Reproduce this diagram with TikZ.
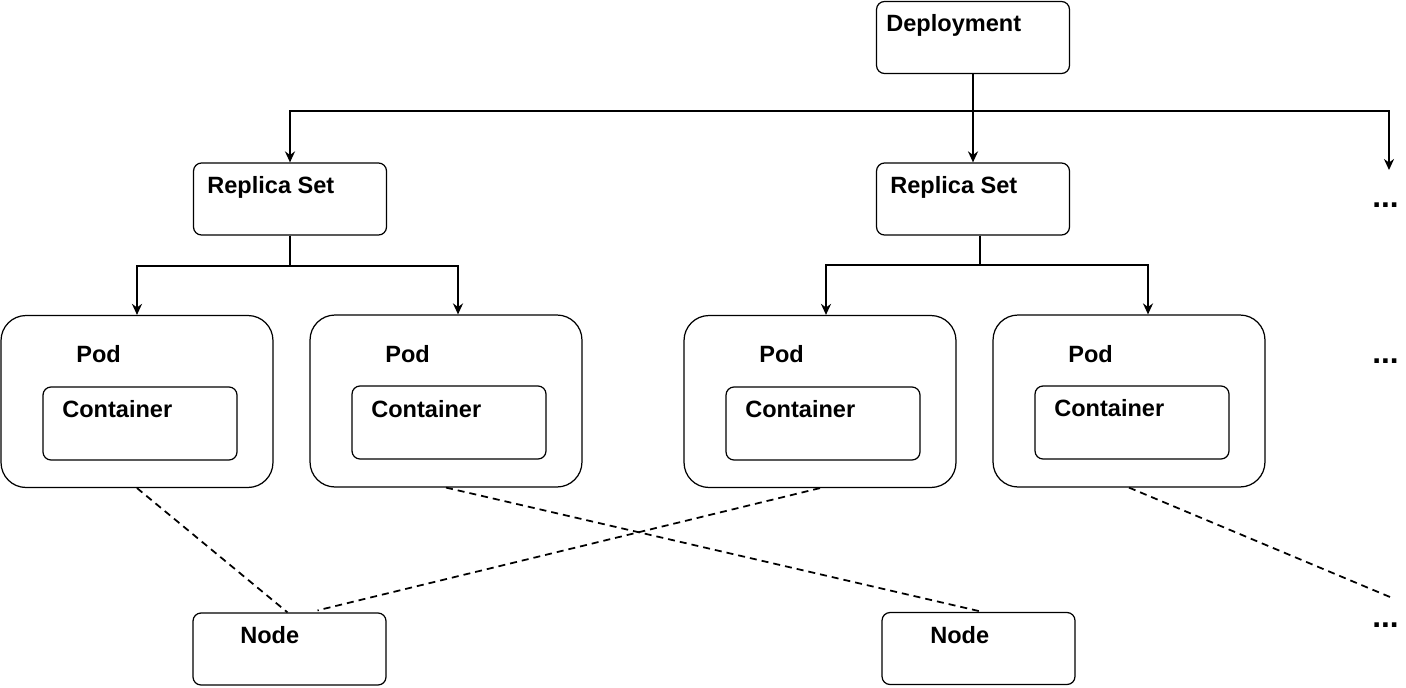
\documentclass[tikz,border=0pt]{standalone}
\usepackage{fontspec}
\setmainfont{Liberation Sans}
\usetikzlibrary{arrows.meta,calc,positioning}

\tikzset{
  box/.style={draw, rounded corners=0.16cm, line width=0.7pt, minimum width=3.86cm, minimum height=1.44cm, inner sep=0pt},
  podbox/.style={draw, rounded corners=0.5cm, line width=0.7pt, minimum width=5.44cm, minimum height=3.44cm, inner sep=0pt},
  conbox/.style={draw, rounded corners=0.16cm, line width=0.7pt, minimum width=3.88cm, minimum height=1.46cm, inner sep=0pt},
  lbl/.style={anchor=base west, inner sep=0pt, font=\bfseries\fontsize{13.4}{16}\selectfont},
  morelbl/.style={anchor=base west, inner sep=0pt, font=\bfseries\fontsize{18}{20}\selectfont},
  link/.style={line width=1.1pt, -{Stealth[length=2.2mm,width=2mm]}},
  host/.style={line width=1pt, dash pattern=on 0.14cm off 0.1cm},
}

\begin{document}
\begin{tikzpicture}[x=0.02cm,y=-0.02cm]
            \useasboundingbox (0,0) rectangle (1406,687);

            % boxes
            \node[box] (dep) at (973,37.5) {};
            \node[box] (rsA) at (290,199) {};
            \node[box] (rsB) at (973,199) {};

            \node[podbox] (podA) at (137,401.5) {};
            \node[podbox] (podB) at (446,401) {};
            \node[podbox] (podC) at (820,401.5) {};
            \node[podbox] (podD) at (1129,401) {};

            \node[conbox] (conA) at (140,423.5) {};
            \node[conbox] (conB) at (449,422.5) {};
            \node[conbox] (conC) at (823,423.5) {};
            \node[conbox] (conD) at (1132,422.5) {};

            \node[box] (hostA) at (289.5,649) {};
            \node[box] (hostB) at (978.5,648.5) {};

            % labels
            \node[lbl] (depT) at (886,31) {Deployment};
            \node[lbl] (rsAT) at (207,193) {Replica Set};
            \node[lbl] (rsBT) at (890,193) {Replica Set};
            \node[lbl] (podAT) at (76,362) {Pod};
            \node[lbl] (podBT) at (385,362) {Pod};
            \node[lbl] (podCT) at (759,362) {Pod};
            \node[lbl] (podDT) at (1068,362) {Pod};
            \node[lbl] (conAT) at (62,417) {Container};
            \node[lbl] (conBT) at (371,417) {Container};
            \node[lbl] (conCT) at (745,417) {Container};
            \node[lbl] (conDT) at (1054,416) {Container};
            \node[lbl] (hostAT) at (240,643) {Node};
            \node[lbl] (hostBT) at (930,643) {Node};

            \node[morelbl] (moreA) at (1372,207) {...};
            \node[morelbl] (moreB) at (1372,363) {...};
            \node[morelbl] (moreC) at (1372,627) {...};
            \coordinate (tipA) at (1389,170);
            \coordinate (tipC) at (1390,597);

            % deployment -> replica sets
            \draw[link] (dep.south) -- ++(0,37) -| (rsA.north);
            \draw[link] (dep.south) -- (rsB.north);
            \draw[link] (dep.south) -- ++(0,37) -| (tipA);

            % replica sets -> pods
            \draw[link] (rsA.south) -- ++(0,30) -| (podA.north);
            \draw[link] (rsA.south) -- ++(0,30) -| ($(podB.north)+(12,0)$);
            \draw[link] ($(rsB.south)+(7,0)$) -- ++(0,29) -| ($(podC.north)+(6,0)$);
            \draw[link] ($(rsB.south)+(7,0)$) -- ++(0,29) -| ($(podD.north)+(19,0)$);

            % pods on nodes
            \draw[host] (podA.south) -- ($(hostA.north)+(-2,0)$);
            \draw[host] (podB.south) -- ($(hostB.north)+(4,0)$);
            \draw[host] (podC.south) -- ($(hostA.north)+(28,-2)$);
            \draw[host] (podD.south) -- (tipC);
\end{tikzpicture}
\end{document}
